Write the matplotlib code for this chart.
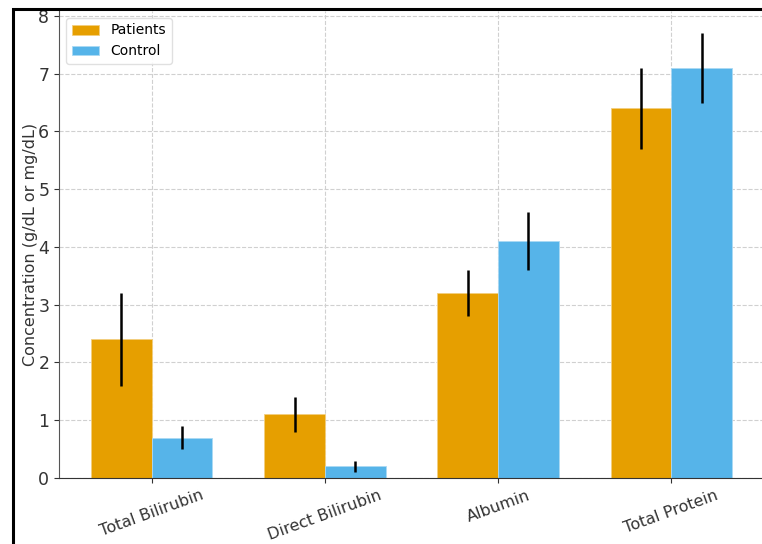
import numpy as np
import matplotlib
matplotlib.use('Agg')
import matplotlib.pyplot as plt
from matplotlib.patches import Rectangle

categories = ['Total Bilirubin', 'Direct Bilirubin', 'Albumin', 'Total Protein']
patients = [2.4, 1.1, 3.2, 6.4]
patients_err = [0.8, 0.3, 0.4, 0.7]
control = [0.7, 0.2, 4.1, 7.1]
control_err = [0.2, 0.1, 0.5, 0.6]

W, H = 762, 544
fig = plt.figure(figsize=(W / 100, H / 100), dpi=100)
# axes extend a little past the right edge, as in the cropped screenshot
ax = fig.add_axes([59 / W, (H - 478) / H, (764 - 59) / W, (478 - 11) / H])

x = np.arange(len(categories))
width = 0.35
ax.bar(x - width / 2, patients, width, yerr=patients_err, label='Patients',
       color='#E69F00', edgecolor='#f3cf80', linewidth=0.6,
       error_kw=dict(ecolor='black', elinewidth=1.8, capsize=0), zorder=2)
ax.bar(x + width / 2, control, width, yerr=control_err, label='Control',
       color='#56B4E9', edgecolor='#aad9f4', linewidth=0.6,
       error_kw=dict(ecolor='black', elinewidth=1.8, capsize=0), zorder=2)

ax.set_xlim(-0.535, 3.535)
ax.set_ylim(0, 8.085)
ax.set_xticks(x)
ax.set_xticklabels(categories, rotation=20, fontsize=11.5, color='#333333')
ax.tick_params(axis='y', labelsize=12.5, colors='#333333')
ax.tick_params(axis='x', colors='#333333')
ax.set_ylabel('Concentration (g/dL or mg/dL)', fontsize=11.5, color='#333333',
              labelpad=0)
ax.grid(True, linestyle='--', color='#d0d0d0', linewidth=0.8, zorder=0)
ax.set_axisbelow(True)
for s in ['top', 'right']:
    ax.spines[s].set_visible(False)
ax.spines['left'].set_color('#555555')
ax.spines['bottom'].set_color('#333333')
ax.legend(loc='upper left', fontsize=10, framealpha=0.9, edgecolor='#dddddd')

# black screenshot frame
fig.add_artist(Rectangle((13 / W, -0.1), 1.2, (H - 9) / H + 0.1,
                         transform=fig.transFigure, fill=False,
                         edgecolor='black', linewidth=2.2))

fig.savefig('out.png', dpi=100)
